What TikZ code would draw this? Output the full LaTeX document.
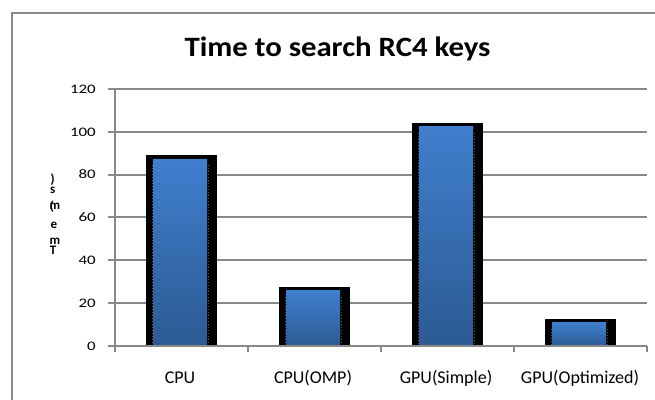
\documentclass[tikz,border=0pt]{standalone}
\usepackage{fontspec}
\setmainfont{Carlito}
\definecolor{gridgray}{HTML}{888888}
\definecolor{framegray}{HTML}{8A8A8A}
\definecolor{bartop}{HTML}{3F7FCE}
\definecolor{barbot}{HTML}{2C5A93}
\definecolor{dotgray}{HTML}{5A5A5A}
\begin{document}
\begin{tikzpicture}[x=1pt,y=-1pt,
  gridline/.style={draw=gridgray,line width=2pt},
  axisline/.style={draw=gridgray,line width=2pt},
  framebox/.style={draw=framegray,line width=2pt},
  ticklab/.style={font=\fontsize{13}{13}\selectfont,inner sep=0pt,anchor=base east},
  catlab/.style={font=\fontsize{18}{18}\selectfont,inner sep=0pt,anchor=base},
  titlelab/.style={font=\bfseries\fontsize{28}{28}\selectfont,inner sep=0pt,anchor=base},
  ylab/.style={font=\bfseries\fontsize{13}{13}\selectfont,inner sep=0pt},
  shadowbar/.style={fill=black,draw=none},
  bluebar/.style={top color=bartop,bottom color=barbot,draw=none},
  edgedots/.style={draw=dotgray,line width=1pt,dash pattern=on 1pt off 2pt}]
\useasboundingbox[fill=white] (0,0) rectangle (655,399);
% outer frame
\draw[framebox] (12,402) -- (12,13) -- (658,13);
% title
\node[titlelab] (title) at (337.5,56) {\scalebox{1.1}[1]{Time to search RC4 keys}};
% grid lines and y ticks
\foreach \v in {20,40,...,120} {
  \draw[gridline] (115,{346-2.142*\v}) -- (647,{346-2.142*\v});
}
\foreach \v in {0,20,...,120} {
  \draw[axisline] (108,{346-2.142*\v}) -- (115,{346-2.142*\v});
  \node[ticklab] (t\v) at (96,{346-2.142*\v+4.2}) {\scalebox{1.3}[1]{\v}};
}
% bars
\foreach \c/\val/\n in {180/87.3/a,313/25.8/b,446/102.4/c,579/10.9/d} {
  \fill[shadowbar] ({\c-34},{346-2.142*\val-4}) rectangle ({\c+37},346);
  \path[bluebar] ({\c-27},{346-2.142*\val}) rectangle ({\c+27},346);
  \draw[edgedots] ({\c-28},{346-2.142*\val+6}) -- ({\c-28},346);
  \draw[edgedots] ({\c+28},{346-2.142*\val+6}) -- ({\c+28},346);
}
% axes
\draw[axisline] (115,{346-2.142*120}) -- (115,346);
\draw[axisline] (115,346) -- (647,346);
\foreach \x in {115,248,381,514,647} {
  \draw[axisline] (\x,346) -- (\x,352);
}
% category labels
\node[catlab] (c1) at (180,383) {CPU};
\node[catlab] (c2) at (313,383) {CPU(OMP)};
\node[catlab] (c3) at (446,383) {GPU(Simple)};
\node[catlab] (c4) at (580,383) {GPU(Optimized)};
% y axis label (stacked glyphs)
\node[ylab] (y8) at (52.7,180) {)};
\node[ylab] (y7) at (52.7,190) {s};
\node[ylab] (y6) at (55,206) {m};
\node[ylab] (y5) at (52,207) {(};
\node[ylab] (y4) at (54,225) {e};
\node[ylab] (y3) at (55,241) {m};
\node[ylab] (y1) at (53,250) {T};
\end{tikzpicture}
\end{document}
